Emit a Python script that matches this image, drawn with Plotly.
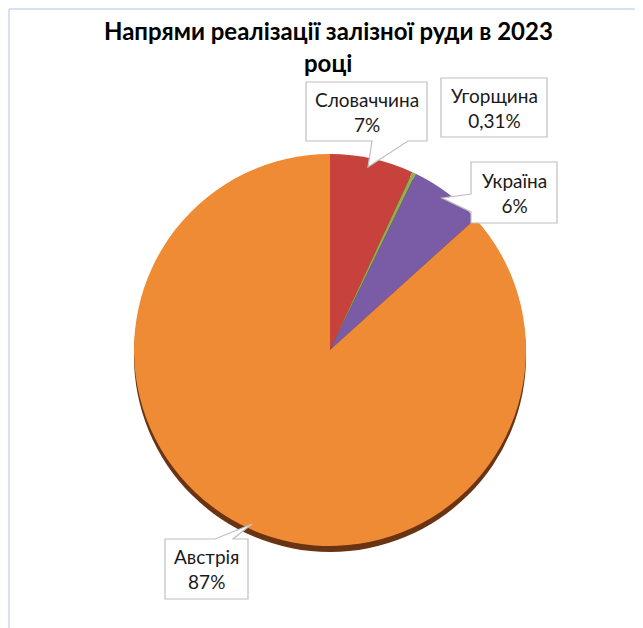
import plotly.graph_objects as go

countries = ["Словаччина", "Угорщина", "Україна", "Австрія"]
shares = [6.9, 0.31, 6.1, 86.69]
colors = ["#C8423D", "#8DB04A", "#7A5BA6", "#EE8B34"]
title_lines = ["Напрями реалізації залізної руди в 2023", "році"]

OFF = 8  # page body margin
W, H = 643 - OFF, 628 - OFF
cx, cy, r = 330, 350, 196
FONT = "Lato, 'Noto Sans', sans-serif"


def px(x):
    return (x - OFF) / W


def py(y):
    return 1 - (y - OFF) / H


def fmt(v):
    return f"{v:.0f}%" if v >= 1 else f"{v:.2f}%".replace(".", ",")


def path(points):
    s = "M " + " L ".join(f"{px(x):.5f},{py(y):.5f}" for x, y in points) + " Z"
    return s


fig = go.Figure()

# dark rim under the pie (pseudo-3D edge)
fig.add_trace(go.Pie(
    values=[1], labels=["rim"], sort=False,
    marker=dict(colors=["#6A3412"], line=dict(width=0)),
    textinfo="none", hoverinfo="skip", showlegend=False,
    domain=dict(x=[px(cx - r), px(cx + r)], y=[py(cy + r + 6), py(cy - r + 6)]),
))

fig.add_trace(go.Pie(
    values=shares, labels=countries, sort=False,
    direction="clockwise", rotation=0,
    marker=dict(colors=colors, line=dict(width=0)),
    textinfo="none", showlegend=False,
    domain=dict(x=[px(cx - r), px(cx + r)], y=[py(cy + r), py(cy - r)]),
))

# callout boxes (layout only)
callouts = [
    [(306, 82), (427, 82), (427, 141), (408, 141), (368, 167), (372, 141), (306, 141)],
    [(441, 78), (547, 78), (547, 137), (441, 137)],
    [(471, 162), (557, 162), (557, 223), (471, 223), (471, 212), (442, 198), (471, 194)],
    [(165, 539), (215, 539), (252, 524), (233, 539), (248, 539), (248, 599), (165, 599)],
]
box_centers = [(366.5, 111.5), (494, 107.5), (514, 192.5), (206.5, 569)]

shapes = []
for pts in callouts:
    shapes.append(dict(type="path", path=path(pts), xref="paper", yref="paper",
                       fillcolor="white", line=dict(color="#BFBFBF", width=1.2)))
# chart frame (top and left edges visible)
shapes.append(dict(type="line", xref="paper", yref="paper", x0=px(9), x1=1.02, y0=py(9), y1=py(9),
                   line=dict(color="#D5E2F3", width=2)))
shapes.append(dict(type="line", xref="paper", yref="paper", x0=px(9), x1=px(9), y0=py(9), y1=-0.02,
                   line=dict(color="#D5E2F3", width=2)))

annotations = []
for name, v, (bx, by) in zip(countries, shares, box_centers):
    annotations.append(dict(
        text=f"{name}<br>{fmt(v)}", x=px(bx), y=py(by), xref="paper", yref="paper",
        showarrow=False, xanchor="center", yanchor="middle", align="center",
        font=dict(family=FONT, size=19, color="#1a1a1a"),
    ))
for line, yy in zip(title_lines, [30, 62]):
    annotations.append(dict(
        text=f"<b>{line}</b>", x=px(328), y=py(yy), xref="paper", yref="paper",
        showarrow=False, xanchor="center", yanchor="middle",
        font=dict(family=FONT, size=24, color="#000000"),
    ))

fig.update_layout(
    width=W, height=H,
    margin=dict(l=0, r=0, t=0, b=0),
    paper_bgcolor="white", plot_bgcolor="white",
    shapes=shapes, annotations=annotations,
    showlegend=False,
)

fig.write_html("out.html")
